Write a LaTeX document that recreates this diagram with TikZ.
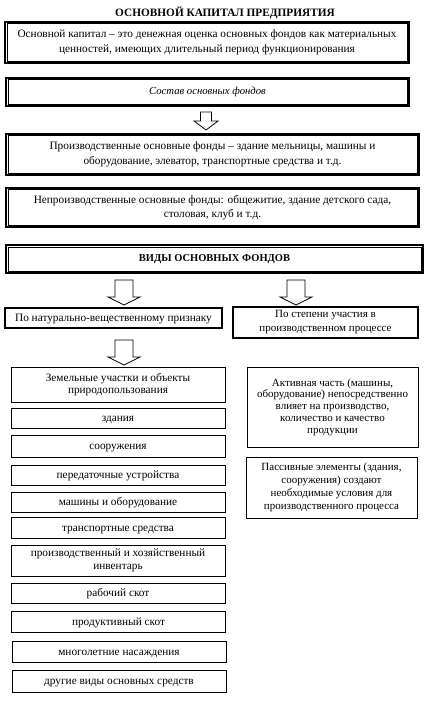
\documentclass[tikz,border=0pt]{standalone}
\usepackage{fontspec}
\setmainfont{Liberation Serif}
\begin{document}
\begin{tikzpicture}[x=1pt,y=-1pt,
  every node/.style={inner sep=1pt, align=center, font=\fontsize{11.3}{12.3}\selectfont},
  lower/.style={execute at begin node={\rule{0pt}{10pt}}},
  lowermore/.style={execute at begin node={\rule{0pt}{13pt}}},
  wide/.style={font=\fontsize{11.3}{14.6}\selectfont},
  narrow/.style={font=\fontsize{11}{12.2}\selectfont},
  dbox/.style={draw, line width=1.6pt, rectangle},
  tbox/.style={draw, line width=1.3pt, rectangle, lower},
  lbox/.style={draw, line width=0.8pt, rectangle, lower},
  inner/.style={line width=0.6pt},
  barrow/.style={draw, line width=0.8pt, fill=white, line join=miter}]
\useasboundingbox (0,0) rectangle (426,703);

\node[font=\fontsize{11.3}{12}\selectfont\bfseries] (title) at (225,13) {ОСНОВНОЙ КАПИТАЛ ПРЕДПРИЯТИЯ};

\node[dbox, wide, lower, minimum width=404pt, minimum height=41pt] (b1) at (207,42.5)
  {Основной капитал – это денежная оценка основных фондов как материальных\\ценностей, имеющих длительный период функционирования};
\node[dbox, minimum width=403pt, minimum height=28pt, font=\fontsize{10.7}{12}\selectfont\itshape] (b2) at (207.5,92)
  {Состав основных фондов};
\node[dbox, wide, lower, minimum width=413pt, minimum height=41pt] (b3) at (212.5,154.5)
  {Производственные основные фонды – здание мельницы, машины и\\оборудование, элеватор, транспортные средства и т.д.};
\node[dbox, wide, lower, minimum width=413pt, minimum height=39pt] (b4) at (212.5,207.5)
  {Непроизводственные основные фонды: общежитие, здание детского сада,\\столовая, клуб и т.д.};
\node[dbox, minimum width=417pt, minimum height=28pt, font=\fontsize{10.5}{12}\selectfont\bfseries] (b5) at (214.5,259)
  {ВИДЫ ОСНОВНЫХ ФОНДОВ};

\foreach \n in {b1,b2,b3,b4,b5}
  \draw[inner] ([shift={(2.6,2.6)}]\n.north west) rectangle ([shift={(-2.6,-2.6)}]\n.south east);

\node[tbox, minimum width=217pt, minimum height=20pt] (L) at (113.5,318) {По натурально-вещественному признаку};
\node[tbox, font=\fontsize{11}{14}\selectfont, minimum width=185pt, minimum height=31pt] (R) at (325.5,322.5) {По степени участия в\\производственном процессе};

\node[lbox, minimum width=214pt, minimum height=35pt] (l1) at (118,384.5) {Земельные участки и объекты\\природопользования};
\node[lbox, minimum width=214pt, minimum height=20pt] (l2) at (118,418) {здания};
\node[lbox, minimum width=214pt, minimum height=22pt] (l3) at (118,446) {сооружения};
\node[lbox, minimum width=214pt, minimum height=20pt] (l4) at (118,475) {передаточные устройства};
\node[lbox, minimum width=214pt, minimum height=20pt] (l5) at (118,502) {машины и оборудование};
\node[lbox, minimum width=214pt, minimum height=21pt] (l6) at (118,527.5) {транспортные средства};
\node[lbox, lowermore, font=\fontsize{11.3}{13}\selectfont, minimum width=214pt, minimum height=31pt] (l7) at (118,560.5) {производственный и хозяйственный\\инвентарь};
\node[lbox, minimum width=214pt, minimum height=20pt] (l8) at (118,593) {рабочий скот};
\node[lbox, minimum width=214pt, minimum height=21pt] (l9) at (118.5,621.5) {продуктивный скот};
\node[lbox, minimum width=214pt, minimum height=21pt] (l10) at (119,651.5) {многолетние насаждения};
\node[lbox, minimum width=214pt, minimum height=22pt] (l11) at (119,681) {другие виды основных средств};

\node[lbox, font=\fontsize{11}{11.8}\selectfont, minimum width=171pt, minimum height=80pt] (act) at (332.5,407)
  {Активная часть (машины,\\оборудование) непосредственно\\влияет на производство,\\количество и качество\\продукции};
\node[lbox, font=\fontsize{11}{13.2}\selectfont, minimum width=171pt, minimum height=61pt] (pas) at (331.5,487.5)
  {Пассивные элементы (здания,\\сооружения) создают\\необходимые условия для\\производственного процесса};

% hollow block arrows
\coordinate (a1) at (206,112);
\coordinate (a2) at (124,280);
\coordinate (a3) at (296,280);
\coordinate (a4) at (124,340);
\draw[barrow] (a1) ++(-5.5,0) -- ++(0,9) -- ++(-6.5,0) -- ++(12,9) -- ++(12,-9) -- ++(-6.5,0) -- ++(0,-9) -- cycle;
\foreach \c in {a2,a3,a4}
  \draw[barrow] (\c) ++(-9,0) -- ++(0,17) -- ++(-7,0) -- ++(16,8) -- ++(16,-8) -- ++(-7,0) -- ++(0,-17) -- cycle;
\end{tikzpicture}
\end{document}
